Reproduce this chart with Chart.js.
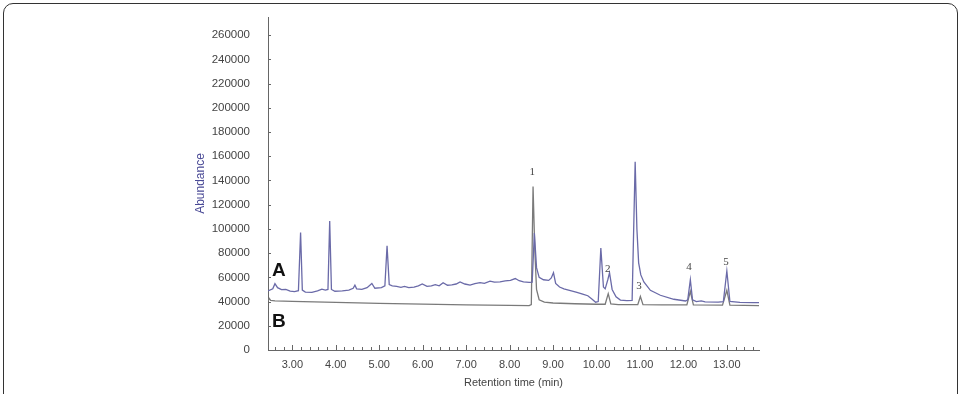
<!DOCTYPE html>
<html>
<head>
<meta charset="utf-8">
<script src="https://cdn.jsdelivr.net/npm/chart.js@4.4.1/dist/chart.umd.min.js"></script>
<style>
  html, body { margin: 0; padding: 0; background: #fff; overflow: hidden; }
  #frame { position: absolute; left: 3px; top: 3px; width: 953px; height: 430px;
           border: 1.5px solid #333; border-radius: 10px; }
  #grafico { position: absolute; left: 0; top: 0; }
</style>
</head>
<body>
<div id="frame"></div>
<canvas id="grafico" width="961" height="394"></canvas>
<script>
// chromatogram A (sample) - retention time (min) / abundance
const timesA = [2.44, 2.55, 2.60, 2.66, 2.75, 2.85, 2.95, 3.05, 3.14, 3.19, 3.23, 3.30, 3.45, 3.58, 3.68, 3.76, 3.82, 3.86, 3.90, 3.98,
  4.15, 4.30, 4.40, 4.44, 4.48, 4.60, 4.72, 4.83, 4.90, 5.05, 5.13, 5.18, 5.23, 5.30, 5.40, 5.50, 5.58, 5.68, 5.80, 5.90,
  5.99, 6.10, 6.20, 6.29, 6.38, 6.47, 6.57, 6.67, 6.77, 6.86, 6.97, 7.09, 7.20, 7.32, 7.42, 7.55, 7.65, 7.78, 7.90, 8.02,
  8.13, 8.22, 8.32, 8.45, 8.52, 8.57, 8.62, 8.68, 8.78, 8.90, 8.96, 9.01, 9.06, 9.15, 9.25, 9.40, 9.55, 9.70, 9.80, 9.90,
  9.98, 10.04, 10.10, 10.16, 10.20, 10.26, 10.30, 10.36, 10.45, 10.55, 10.70, 10.82, 10.89, 10.93, 10.97, 11.02, 11.09, 11.24, 11.47, 11.78,
  12.05, 12.10, 12.16, 12.21, 12.30, 12.41, 12.50, 12.80, 12.92, 13.00, 13.07, 13.30, 13.60, 13.74];
const abundA = [48800, 50500, 54800, 51500, 49800, 50000, 48600, 48200, 49000, 97000, 49500, 47800, 47600, 48800, 50200, 49500, 50000, 106500, 50000, 48500,
  48800, 49500, 51000, 53500, 50500, 50000, 51500, 55000, 51000, 51500, 53000, 86000, 54000, 53000, 52500, 51800, 52500, 51500, 52000, 53000,
  54500, 52500, 53000, 54000, 53000, 55600, 53500, 53800, 54500, 56200, 54500, 53600, 54800, 55600, 55000, 56800, 56000, 56300, 57000, 57500,
  59000, 57200, 56200, 55800, 56000, 96600, 68000, 60000, 58000, 57500, 59500, 63800, 55000, 52000, 50500, 49000, 47500, 46000, 44800, 42000,
  39500, 40000, 84200, 52000, 50500, 58000, 63800, 50000, 44000, 41200, 40800, 41000, 155500, 100000, 72000, 62000, 56200, 49300, 45200, 41900,
  40500, 41500, 58000, 41500, 40000, 40600, 39800, 39500, 40000, 65200, 40200, 39400, 39200, 39100];

// chromatogram B (standard)
const timesB = [2.44, 2.47, 2.50, 2.60, 3.00, 4.00, 5.00, 6.00, 7.00, 8.00, 8.45, 8.50, 8.54, 8.58, 8.62, 8.68, 8.80, 9.00, 9.50, 10.00,
  10.20, 10.27, 10.33, 10.50, 10.95, 11.01, 11.07, 11.50, 12.08, 12.16, 12.23, 12.90, 13.00, 13.07, 13.74];
const abundB = [40500, 42500, 41000, 40600, 40200, 39300, 38500, 37900, 37300, 36800, 36600, 37500, 135000, 83000, 50000, 41500, 39500, 38800, 38200, 37800,
  37800, 46500, 38000, 37400, 37400, 44200, 37500, 37200, 37200, 48400, 37300, 37000, 49300, 37100, 36700];

// peak numbers
const peakNames = ['1', '2', '3', '4', '5'];
const peakTimes = [8.52, 10.26, 10.98, 12.13, 12.98];
const peakLabelY = [146700, 67100, 53100, 68700, 72800];

// trace letters
const traceNames = ['A', 'B'];
const traceLabelY = [65400, 23600];

const xTicks = [3, 4, 5, 6, 7, 8, 9, 10, 11, 12, 13];
const yTicks = [0, 20000, 40000, 60000, 80000, 100000, 120000, 140000, 160000, 180000, 200000, 220000, 240000, 260000];

function pares(tt, vv) {
    return tt.map((t, i) => ({ x: t, y: vv[i] }));
}

// tick marks point inward, labels + letters
const extras = {
    id: 'extras',
    afterDraw(chart) {
        const c = chart.ctx;
        const sx = chart.scales.x, sy = chart.scales.y;
        const x0 = sx.left, y0 = sy.bottom;
        c.save();
        c.strokeStyle = '#666';
        c.lineWidth = 1;
        c.beginPath();
        for (let k = 13; k <= 68; k++) {
            const t = k / 5;
            const px = Math.round(sx.getPixelForValue(t)) + 0.5;
            const len = (k % 5 === 0) ? 5 : 3;
            c.moveTo(px, y0);
            c.lineTo(px, y0 - len);
        }
        yTicks.forEach(v => {
            const py = Math.round(sy.getPixelForValue(v)) + 0.5;
            c.moveTo(x0, py);
            c.lineTo(x0 + 3, py);
        });
        c.stroke();

        c.fillStyle = '#444';
        c.font = '11px "Liberation Serif", serif';
        c.textAlign = 'center';
        c.textBaseline = 'middle';
        peakNames.forEach((n, i) => {
            c.fillText(n, sx.getPixelForValue(peakTimes[i]), sy.getPixelForValue(peakLabelY[i]));
        });

        c.fillStyle = '#111';
        c.font = 'bold 19px "Liberation Sans", Arial, sans-serif';
        c.textAlign = 'left';
        traceNames.forEach((n, i) => {
            c.fillText(n, x0 + 4, sy.getPixelForValue(traceLabelY[i]));
        });
        c.restore();
    }
};

const ctx = document.getElementById('grafico').getContext('2d');
const myChart = new Chart(ctx, {
    type: 'line',
    data: {
        datasets: [{
            label: 'A',
            data: pares(timesA, abundA),
            borderColor: '#6a6aa8',
            borderWidth: 1.3,
            pointRadius: 0,
            tension: 0,
            fill: false
        }, {
            label: 'B',
            data: pares(timesB, abundB),
            borderColor: '#7a7a7a',
            borderWidth: 1.3,
            pointRadius: 0,
            tension: 0,
            fill: false
        }]
    },
    options: {
        responsive: false,
        animation: false,
        layout: { padding: { left: 190, top: 17, right: 202, bottom: 0 } },
        plugins: { legend: { display: false }, tooltip: { enabled: false } },
        scales: {
            x: {
                type: 'linear',
                min: 2.44,
                max: 13.74,
                afterBuildTicks: s => { s.ticks = xTicks.map(v => ({ value: v })); },
                afterFit: s => { s.height = 44; s.paddingLeft = 0; s.paddingRight = 0; },
                grid: { display: false, drawTicks: false },
                border: { display: true, color: '#666', width: 1 },
                ticks: {
                    callback: v => Number(v).toFixed(2),
                    font: { family: '"Liberation Sans", Arial, sans-serif', size: 11 },
                    color: '#444',
                    padding: 8,
                    maxRotation: 0,
                    autoSkip: false
                },
                title: {
                    display: true,
                    text: 'Retention time (min)',
                    font: { family: '"Liberation Sans", Arial, sans-serif', size: 11 },
                    color: '#444',
                    padding: { top: 0, bottom: 4 }
                }
            },
            y: {
                min: 0,
                max: 275000,
                afterBuildTicks: s => { s.ticks = yTicks.map(v => ({ value: v })); },
                afterFit: s => { s.width = 78; s.paddingTop = 0; s.paddingBottom = 0; },
                grid: { display: false, drawTicks: false },
                border: { display: true, color: '#666', width: 1 },
                ticks: {
                    callback: v => String(v),
                    font: { family: '"Liberation Sans", Arial, sans-serif', size: 11.5 },
                    color: '#444',
                    padding: 18
                },
                title: {
                    display: true,
                    text: 'Abundance',
                    font: { family: '"Liberation Sans", Arial, sans-serif', size: 12 },
                    color: '#4a4a96',
                    padding: { top: 3, bottom: 0 }
                }
            }
        }
    },
    plugins: [extras]
});
</script>
</body>
</html>
